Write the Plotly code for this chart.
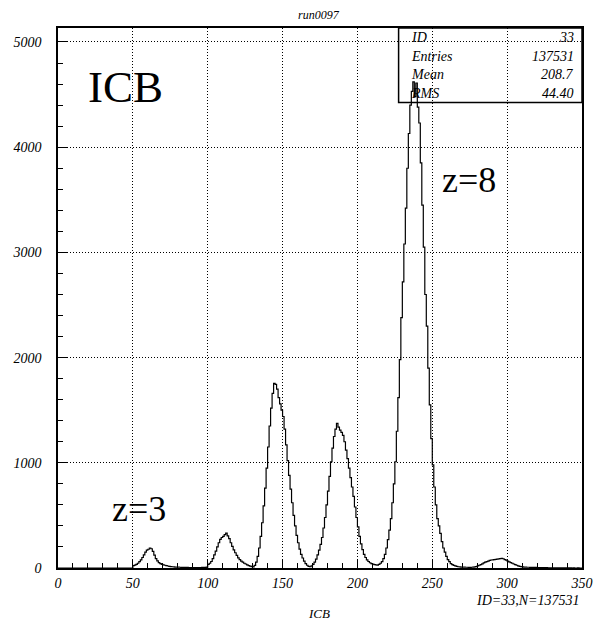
import numpy as np
import plotly.graph_objects as go

# Histogram 33: ICB spectrum, run0097 (1-unit bins from 0 to 350)
x_min, x_max, n_bins = 0.0, 350.0, 350
counts = [
    0, 0, 0, 0, 0, 0, 0, 0, 0, 0,                                   # 0-9
    0, 0, 0, 0, 0, 0, 0, 0, 0, 0,                                   # 10-19
    0, 0, 0, 0, 0, 0, 0, 0, 0, 0,                                   # 20-29
    0, 0, 0, 0, 0, 0, 0, 0, 0, 0,                                   # 30-39
    0, 0, 0, 0, 0, 0, 0, 0, 0, 0,                                   # 40-49
    22, 28, 35, 45, 60, 78, 100, 125, 150, 170,                     # 50-59
    178, 190, 183, 158, 122, 90, 68, 52, 42, 35,                    # 60-69
    30, 26, 22, 19, 16, 14, 12, 11, 9, 8,                           # 70-79
    8, 7, 6, 6, 5, 5, 5, 4, 4, 4,                                   # 80-89
    4, 3, 4, 3, 4, 4, 5, 5, 6, 8,                                   # 90-99
    35, 45, 62, 90, 125, 160, 200, 240, 272, 290,                   # 100-109
    300, 318, 332, 305, 280, 240, 205, 172, 145, 120,               # 110-119
    96, 80, 66, 55, 45, 38, 30, 23, 17, 13,                         # 120-129
    10, 25, 55, 110, 190, 300, 430, 590, 760, 950,                  # 130-139
    1150, 1350, 1520, 1660, 1755, 1745, 1700, 1620, 1560, 1500,     # 140-149
    1440, 1320, 1170, 1020, 880, 750, 620, 500, 400, 310,           # 150-159
    240, 180, 130, 95, 65, 42, 26, 16, 12, 20,                      # 160-169
    35, 55, 85, 125, 170, 225, 290, 380, 480, 600,                  # 170-179
    730, 870, 1010, 1140, 1250, 1320, 1375, 1340, 1310, 1290,       # 180-189
    1260, 1200, 1120, 1040, 950, 860, 770, 680, 580, 480,           # 190-199
    390, 300, 230, 175, 130, 100, 78, 62, 50, 42,                   # 200-209
    36, 32, 30, 28, 35, 45, 60, 90, 130, 190,                       # 210-219
    270, 360, 470, 620, 800, 1010, 1300, 1620, 1980, 2380,          # 220-229
    2720, 3080, 3420, 3800, 4130, 4400, 4530, 4620, 4480, 4610,     # 230-239
    4380, 4230, 3850, 3450, 3050, 2600, 2300, 1900, 1550, 1230,     # 240-249
    980, 770, 600, 470, 400, 330, 250, 190, 150, 110,               # 250-259
    80, 60, 42, 32, 25, 20, 15, 12, 10, 9,                          # 260-269
    8, 8, 7, 7, 6, 6, 7, 8, 10, 14,                                 # 270-279
    20, 26, 32, 40, 48, 55, 60, 66, 72, 76,                         # 280-289
    78, 80, 82, 84, 86, 90, 92, 88, 80, 74,                         # 290-299
    66, 58, 52, 45, 38, 32, 26, 20, 16, 13,                         # 300-309
    11, 9, 8, 7, 7, 6, 6, 5, 5, 5,                                  # 310-319
    4, 4, 4, 3, 3, 3, 3, 2, 2, 2,                                   # 320-329
    2, 2, 2, 2, 1, 1, 1, 1, 1, 1,                                   # 330-339
    1, 1, 1, 0, 1, 0, 0, 1, 0, 0,                                   # 340-349
]

x_ticks = [0, 50, 100, 150, 200, 250, 300, 350]
y_ticks = [0, 1000, 2000, 3000, 4000, 5000]
y_top = 5133

stat_names = ["ID", "Entries", "Mean", "RMS"]
stat_values = ["33", "137531", "208.7", "44.40"]
run_title = "run0097"
x_title = "ICB"
footer = "ID=33,N=137531"
peak_labels = ["z=3", "z=8"]

serif = "Liberation Serif"

# step outline of the histogram
edges = np.linspace(x_min, x_max, n_bins + 1)
step_y = list(counts) + [counts[-1]]

fig = go.Figure()
fig.add_trace(go.Scatter(
    x=edges, y=step_y, mode="lines", line_shape="hv",
    line=dict(color="black", width=1.2), hoverinfo="skip", showlegend=False,
))

axis_common = dict(
    showline=True, linecolor="black", linewidth=1.5, mirror=True,
    ticks="inside", tickcolor="black", tickwidth=1,
    showgrid=True, gridcolor="black", gridwidth=1, griddash="1px,2px",
    zeroline=False,
    tickfont=dict(family=serif, size=14, color="black", style="italic"),
)

fig.update_layout(
    width=605, height=621, autosize=False,
    margin=dict(l=55, r=13, t=28, b=53),
    paper_bgcolor="white", plot_bgcolor="white",
    showlegend=False,
    font=dict(family=serif, color="black"),
    xaxis=dict(
        range=[x_min, x_max], tickvals=x_ticks, ticklen=8,
        ticklabelstandoff=1,
        minor=dict(dtick=10, tick0=0, ticks="inside", ticklen=5,
                   tickcolor="black", showgrid=False),
        **axis_common,
    ),
    yaxis=dict(
        range=[0, y_top], tickvals=y_ticks, ticklen=9,
        ticklabelstandoff=12,
        minor=dict(dtick=200, tick0=0, ticks="inside", ticklen=5,
                   tickcolor="black", showgrid=False),
        **axis_common,
    ),
)

annotations = []
# title above the frame
annotations.append(dict(
    text=run_title, xref="paper", yref="paper", x=0.499, y=1.024,
    xanchor="center", yanchor="middle", showarrow=False,
    font=dict(family=serif, size=12, color="black", style="italic"),
))
# big histogram name
annotations.append(dict(
    text=x_title, xref="paper", yref="paper", x=0.1290, y=0.890,
    xanchor="center", yanchor="middle", showarrow=False,
    font=dict(family=serif, size=45, color="black"),
))
# charge labels
annotations.append(dict(
    text=peak_labels[0], xref="paper", yref="paper", x=0.1555, y=0.110,
    xanchor="center", yanchor="middle", showarrow=False,
    font=dict(family=serif, size=36, color="black"),
))
annotations.append(dict(
    text=peak_labels[1], xref="paper", yref="paper", x=0.784, y=0.718,
    xanchor="center", yanchor="middle", showarrow=False,
    font=dict(family=serif, size=36, color="black"),
))
# statistics box contents
row_y = [0.983, 0.948, 0.913, 0.879]
for name, val, yy in zip(stat_names, stat_values, row_y):
    annotations.append(dict(
        text=name, xref="paper", yref="paper", x=0.670, y=yy,
        xanchor="left", yanchor="middle", showarrow=False,
        font=dict(family=serif, size=14, color="black", style="italic"),
    ))
    annotations.append(dict(
        text=val, xref="paper", yref="paper", x=0.988, y=yy,
        xanchor="right", yanchor="middle", showarrow=False,
        font=dict(family=serif, size=14, color="black", style="italic"),
    ))
# footer and axis title
annotations.append(dict(
    text=footer, xref="paper", yref="paper", x=1.0, y=-0.061,
    xanchor="right", yanchor="middle", showarrow=False,
    font=dict(family=serif, size=14, color="black", style="italic"),
))
annotations.append(dict(
    text=x_title, xref="paper", yref="paper", x=0.499, y=-0.085,
    xanchor="center", yanchor="middle", showarrow=False,
    font=dict(family=serif, size=13, color="black", style="italic"),
))
fig.update_layout(annotations=annotations)

# statistics box frame
fig.add_shape(type="rect", xref="paper", yref="paper",
              x0=0.650, x1=1.0, y0=0.862, y1=1.0,
              line=dict(color="black", width=1.5), fillcolor="rgba(0,0,0,0)")

fig.write_html("out.html")
